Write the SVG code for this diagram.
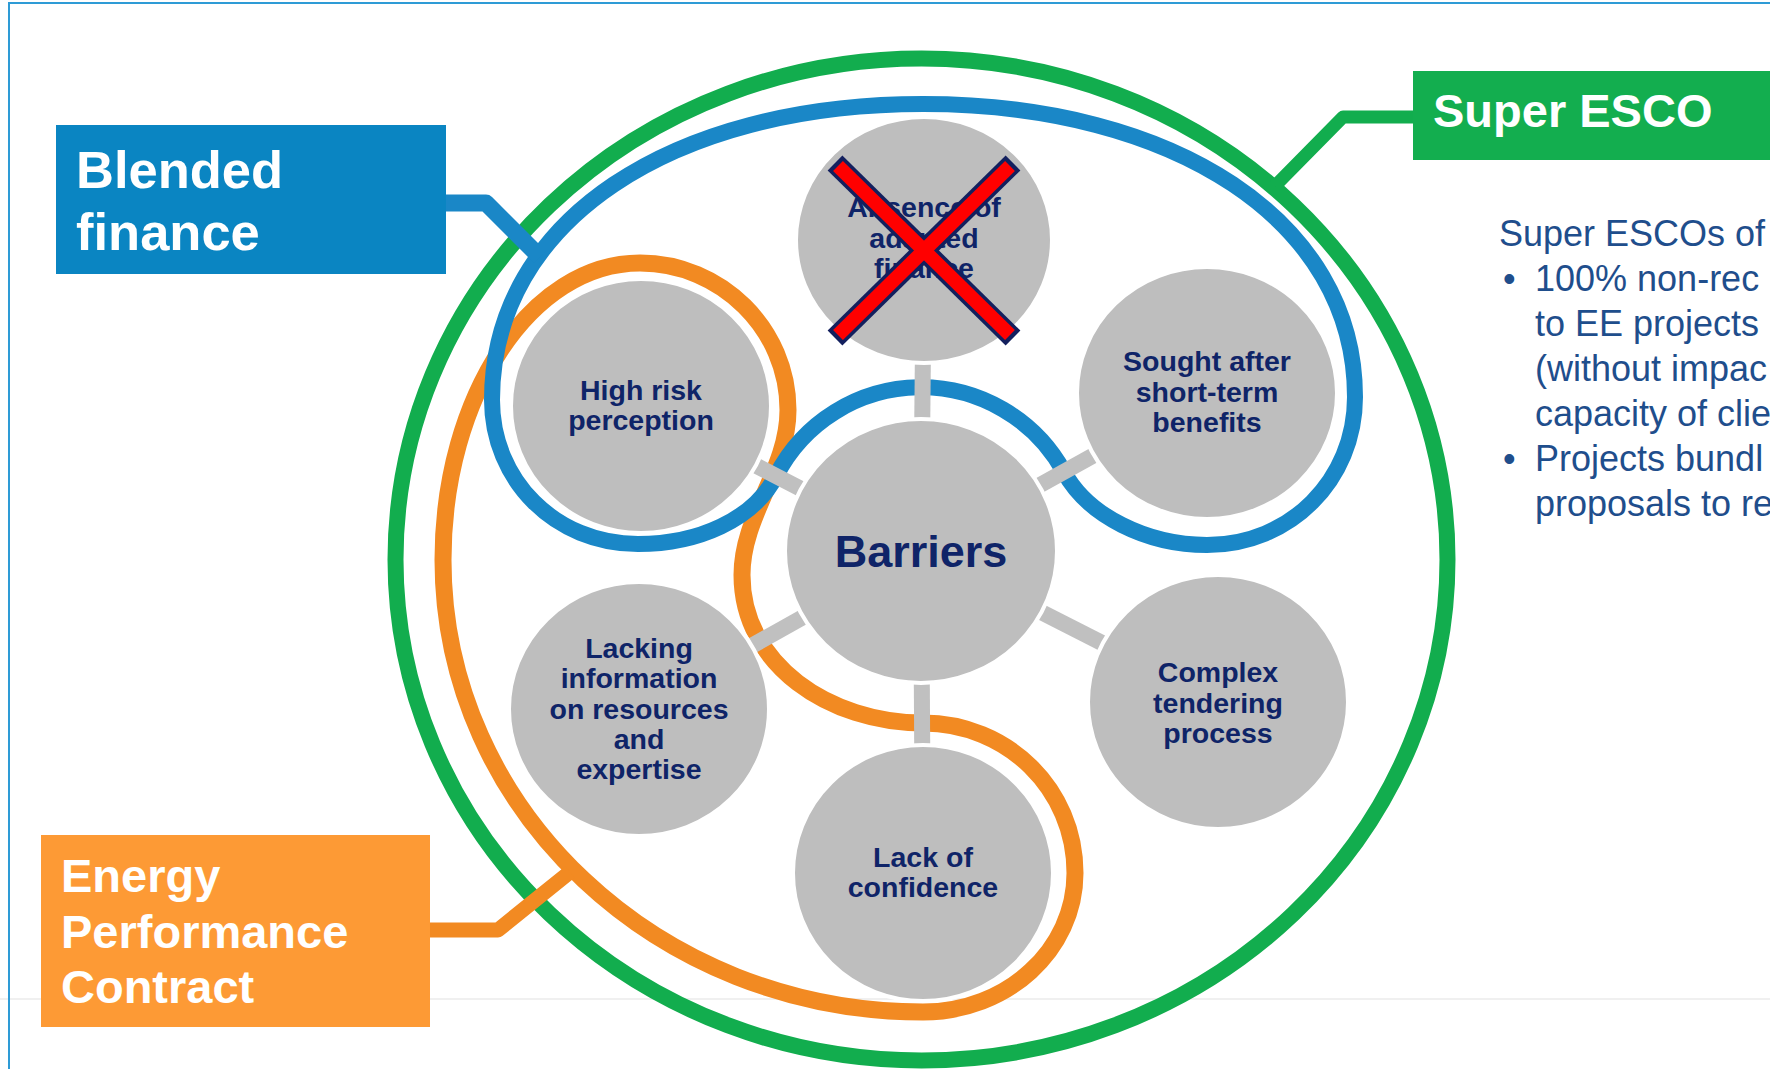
<svg xmlns="http://www.w3.org/2000/svg" width="1770" height="1069" viewBox="0 0 1770 1069">
<style>
.bg{fill:#ffffff}
.frame{stroke:#2E9BD6;stroke-width:2;fill:none}
.faint{stroke:#F0F0F0;stroke-width:2}
.ring{fill:none;stroke-linejoin:round}
.green{stroke:#12AD4E}
.blue{stroke:#1A87C7}
.orange{stroke:#F28A22}
.stub{stroke:#C0C0C0;stroke-width:16}
.disc{fill:#BEBEBE;stroke:#ffffff;stroke-width:4}
.nt{font-family:"Liberation Sans",Arial,sans-serif;font-weight:bold;font-size:28.5px;fill:#0F2468;text-anchor:middle}
.big{font-size:45px}
.lbl{font-family:"Liberation Sans",Arial,sans-serif;font-weight:bold;fill:#ffffff}
.body{font-family:"Liberation Sans",Arial,sans-serif;font-size:36px;fill:#1F4E8C}
.xo{stroke:#13205E;stroke-width:21;stroke-linecap:butt}
.xr{stroke:#FF0000;stroke-width:14;stroke-linecap:butt}
</style>
<rect class="bg" x="0" y="0" width="1770" height="1069"/>
<line class="faint" x1="0" y1="999" x2="1770" y2="999"/>
<path class="frame" d="M9,1069 V3 H1770"/>

<g id="rings">
  <ellipse class="ring green" cx="921.5" cy="559.5" rx="526" ry="501" stroke-width="16"/>
  <path class="ring orange" stroke-width="17" d="M640,263 C721,263 788,329 788,410 C788,470 742,515 742,575 C742,665 830,723 923,723 C1007,723 1075,789 1075,873 C1075,950 1007,1012 923,1012 C658,1012 443,810 443,560 C443,396 531,263 640,263 Z"/>
  <path class="ring blue" stroke-width="16" d="M492,400 C492,220 673,104 923,104 C1173,104 1355,220 1355,397 C1355,480 1290,545 1207,545 C1147,545 1088,516 1064,472 A163,163 0 0 0 776,476 C753,520 698,544 638,544 C555,544 492,480 492,400 Z"/>
</g>

<g id="connectors">
  <polyline class="ring green" stroke-width="13" points="1413,117 1343,117 1275,186"/>
  <polyline class="ring blue" stroke-width="17" points="446,203 486,203 540,257"/>
  <polyline class="ring orange" stroke-width="15" points="430,930 498,930 570,872"/>
  <line class="stub" x1="921" y1="551" x2="924" y2="240"/>
  <line class="stub" x1="921" y1="551" x2="641" y2="406"/>
  <line class="stub" x1="921" y1="551" x2="1206" y2="393"/>
  <line class="stub" x1="921" y1="551" x2="639" y2="709"/>
  <line class="stub" x1="921" y1="551" x2="1218" y2="702"/>
  <line class="stub" x1="921" y1="551" x2="923" y2="873"/>
</g>

<g id="node-absence">
  <ellipse class="disc" cx="924" cy="240" rx="128" ry="123"/>
  <text class="nt"><tspan x="924" y="217">Absence of</tspan><tspan x="924" y="248">adapted</tspan><tspan x="924" y="278">finance</tspan></text>
  <line class="xo" x1="835" y1="163" x2="1013" y2="338"/>
  <line class="xo" x1="1013" y1="163" x2="835" y2="338"/>
  <line class="xr" x1="838" y1="166" x2="1010" y2="335"/>
  <line class="xr" x1="1010" y1="166" x2="838" y2="335"/>
</g>

<g id="node-high-risk">
  <ellipse class="disc" cx="641" cy="406" rx="130" ry="127"/>
  <text class="nt"><tspan x="641" y="400">High risk</tspan><tspan x="641" y="430">perception</tspan></text>
</g>

<g id="node-sought">
  <ellipse class="disc" cx="1207" cy="393" rx="130" ry="126"/>
  <text class="nt"><tspan x="1207" y="371">Sought after</tspan><tspan x="1207" y="402">short-term</tspan><tspan x="1207" y="432">benefits</tspan></text>
</g>

<g id="node-barriers">
  <ellipse class="disc" cx="921" cy="551" rx="136" ry="132"/>
  <text class="nt big" x="921" y="567">Barriers</text>
</g>

<g id="node-lacking">
  <ellipse class="disc" cx="639" cy="709" rx="130" ry="127"/>
  <text class="nt"><tspan x="639" y="658">Lacking</tspan><tspan x="639" y="688">information</tspan><tspan x="639" y="719">on resources</tspan><tspan x="639" y="749">and</tspan><tspan x="639" y="779">expertise</tspan></text>
</g>

<g id="node-complex">
  <ellipse class="disc" cx="1218" cy="702" rx="130" ry="127"/>
  <text class="nt"><tspan x="1218" y="682">Complex</tspan><tspan x="1218" y="713">tendering</tspan><tspan x="1218" y="743">process</tspan></text>
</g>

<g id="node-confidence">
  <ellipse class="disc" cx="923" cy="873" rx="130" ry="128"/>
  <text class="nt"><tspan x="923" y="867">Lack of</tspan><tspan x="923" y="897">confidence</tspan></text>
</g>

<g id="label-blended">
  <rect x="56" y="125" width="390" height="149" fill="#0A85C2"/>
  <text class="lbl" font-size="52.5"><tspan x="76" y="188">Blended</tspan><tspan x="76" y="250">finance</tspan></text>
</g>

<g id="label-epc">
  <rect x="41" y="835" width="389" height="192" fill="#FD9A35"/>
  <text class="lbl" font-size="47"><tspan x="61" y="892">Energy</tspan><tspan x="61" y="948">Performance</tspan><tspan x="61" y="1003">Contract</tspan></text>
</g>

<g id="label-super-esco">
  <rect x="1413" y="71" width="357" height="89" fill="#13AE4F"/>
  <text class="lbl" font-size="47" x="1433" y="127">Super ESCO</text>
</g>

<g id="super-esco-text">
  <text class="body"><tspan x="1499" y="246">Super ESCOs of</tspan></text>
  <text class="body"><tspan x="1503" y="291">•</tspan><tspan x="1535" y="291">100% non-rec</tspan></text>
  <text class="body"><tspan x="1535" y="336">to EE projects</tspan></text>
  <text class="body"><tspan x="1535" y="381">(without impac</tspan></text>
  <text class="body"><tspan x="1535" y="426">capacity of clie</tspan></text>
  <text class="body"><tspan x="1503" y="471">•</tspan><tspan x="1535" y="471">Projects bundl</tspan></text>
  <text class="body"><tspan x="1535" y="516">proposals to re</tspan></text>
</g>
</svg>
